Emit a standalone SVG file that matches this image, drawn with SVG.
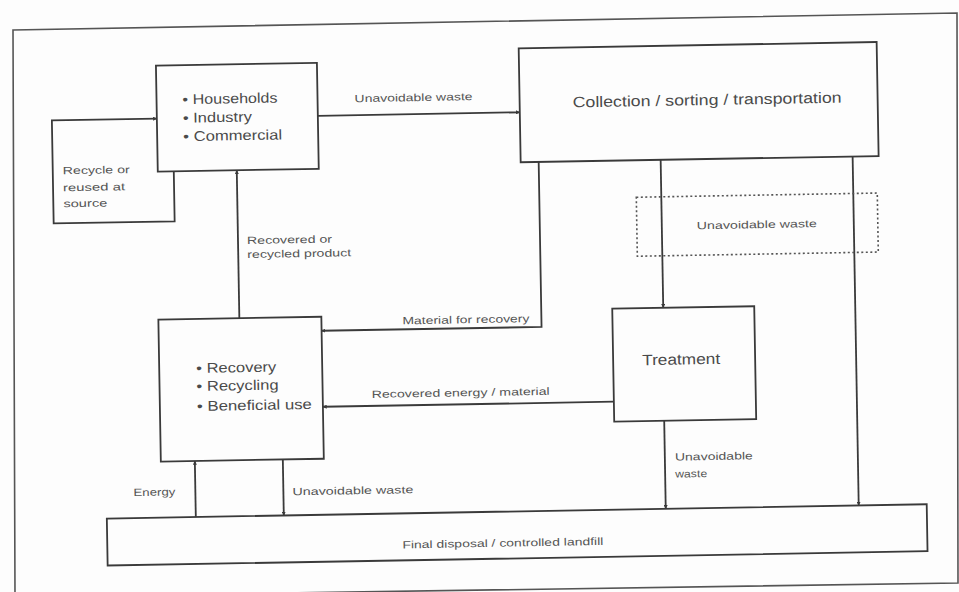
<svg xmlns="http://www.w3.org/2000/svg" width="959" height="592" viewBox="0 0 959 592">
<style>
.box{fill:none;stroke:#3a3a3a;stroke-width:1.8}
.dot{fill:none;stroke:#555;stroke-width:1.6;stroke-dasharray:2 2.5}
.ln{fill:none;stroke:#3a3a3a;stroke-width:1.8}
.arr{marker-end:url(#ah)}
.t{font-family:"Liberation Sans",Arial,sans-serif;fill:#4a4a4a}
.big{font-size:14px}
.mid{font-size:15px}
.sm{font-size:10.5px;fill:#555}
</style>
<defs>
<marker id="ah" viewBox="0 0 8 8" refX="7.5" refY="4" markerWidth="4" markerHeight="4" orient="auto" markerUnits="userSpaceOnUse">
<path d="M0,0 L8,4 L0,8 z" fill="#3a3a3a"/>
</marker>
</defs>
<rect width="959" height="592" fill="#fdfdfd"/>
<polygon points="13,30 957,13 958,583 15,597" fill="none" stroke="#555" stroke-width="1.6"/>
<g transform="rotate(-1 480 296)">
<g id="connectors">
<path class="ln arr" d="M176,166 V216 H55 V113 H160"/>
<path class="ln arr" d="M321,113 H523"/>
<path class="ln arr" d="M541,163 V328 H321"/>
<path class="ln arr" d="M239,314 V166"/>
<path class="ln arr" d="M663,163 V311"/>
<path class="ln arr" d="M612,404 H321"/>
<path class="ln arr" d="M662,424 V512"/>
<path class="ln arr" d="M855,163 V512"/>
<path class="ln arr" d="M192,512 V456"/>
<path class="ln arr" d="M280,456 V512"/>
<text class="t sm" x="358" y="100" textLength="118" lengthAdjust="spacingAndGlyphs">Unavoidable waste</text>
<text class="t sm" x="248" y="240" textLength="85" lengthAdjust="spacingAndGlyphs">Recovered or</text>
<text class="t sm" x="248" y="254" textLength="104" lengthAdjust="spacingAndGlyphs">recycled product</text>
<text class="t sm" x="402" y="323" textLength="127" lengthAdjust="spacingAndGlyphs">Material for recovery</text>
<text class="t sm" x="370" y="396" textLength="178" lengthAdjust="spacingAndGlyphs">Recovered energy / material</text>
<text class="t sm" x="130" y="490" textLength="42" lengthAdjust="spacingAndGlyphs">Energy</text>
<text class="t sm" x="289" y="492" textLength="121" lengthAdjust="spacingAndGlyphs">Unavoidable waste</text>
<text class="t sm" x="672" y="464" textLength="78" lengthAdjust="spacingAndGlyphs">Unavoidable</text>
<text class="t sm" x="672" y="481" textLength="32" lengthAdjust="spacingAndGlyphs">waste</text>
</g>
<g id="recycle-source">
<text class="t sm" x="65" y="167" textLength="67" lengthAdjust="spacingAndGlyphs">Recycle or</text>
<text class="t sm" x="65" y="184" textLength="62" lengthAdjust="spacingAndGlyphs">reused at</text>
<text class="t sm" x="65" y="200" textLength="44" lengthAdjust="spacingAndGlyphs">source</text>
</g>
<g id="households">
<rect class="box" x="160" y="60" width="161" height="106"/>
<text class="t big" x="186" y="99" textLength="95" lengthAdjust="spacingAndGlyphs">• Households</text>
<text class="t big" x="186" y="117.5" textLength="69" lengthAdjust="spacingAndGlyphs">• Industry</text>
<text class="t big" x="186" y="136" textLength="99" lengthAdjust="spacingAndGlyphs">• Commercial</text>
</g>
<g id="collection">
<rect class="box" x="523" y="49" width="358" height="114"/>
<text class="t mid" x="576" y="109" textLength="269" lengthAdjust="spacingAndGlyphs">Collection / sorting /  transportation</text>
</g>
<g id="unavoidable-dotted">
<rect class="dot" x="638" y="200" width="241" height="59"/>
<text class="t sm" x="698" y="233" textLength="120" lengthAdjust="spacingAndGlyphs">Unavoidable waste</text>
</g>
<g id="recovery">
<rect class="box" x="158" y="314" width="163" height="142"/>
<text class="t big" x="195" y="368" textLength="80" lengthAdjust="spacingAndGlyphs">• Recovery</text>
<text class="t big" x="195" y="386" textLength="82" lengthAdjust="spacingAndGlyphs">• Recycling</text>
<text class="t big" x="195" y="406" textLength="115" lengthAdjust="spacingAndGlyphs">• Beneficial use</text>
</g>
<g id="treatment">
<rect class="box" x="612" y="311" width="142" height="113"/>
<text class="t mid" x="641" y="368" textLength="78" lengthAdjust="spacingAndGlyphs">Treatment</text>
</g>
<g id="final-disposal">
<rect class="box" x="103" y="512" width="820" height="47"/>
<text class="t sm" x="398" y="547" textLength="201" lengthAdjust="spacingAndGlyphs">Final disposal / controlled landfill</text>
</g>
</g>
</svg>
